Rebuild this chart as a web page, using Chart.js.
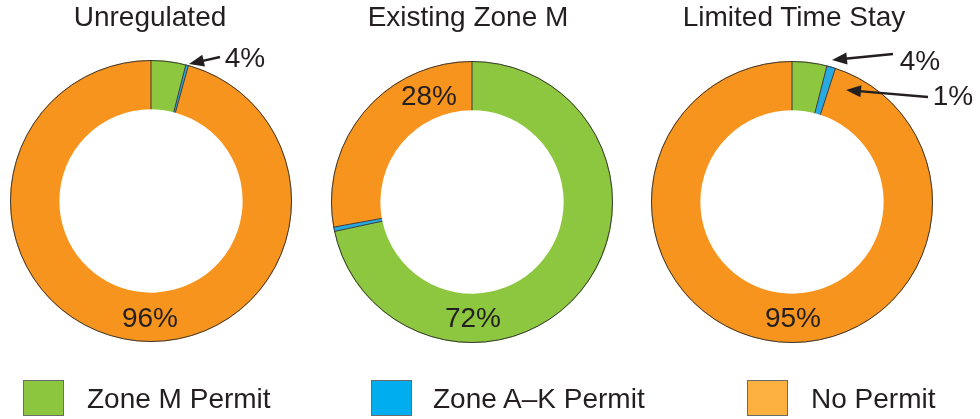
<!DOCTYPE html>
<html>
<head>
<meta charset="utf-8">
<title>Parking permits</title>
<script src="https://cdn.jsdelivr.net/npm/chart.js@4.4.1/dist/chart.umd.min.js"></script>
<style>
	body { margin: 0; background: #fff; font-family: "Liberation Sans", Arial, sans-serif; color: #231f20; }
	#wrap { position: relative; width: 980px; height: 419px; overflow: hidden; }
	.pie { position: absolute; width: 282px; height: 282px; }
	.txt { position: absolute; font-size: 28px; line-height: 1; white-space: nowrap; transform: translate(-50%, -50%); }
	.key { position: absolute; top: 380px; width: 41px; height: 36px; box-sizing: border-box; border: 1px solid #6b6b6b; }
	.keylabel { position: absolute; top: 385px; font-size: 28px; line-height: 1; white-space: nowrap; }
	svg { position: absolute; left: 0; top: 0; }
</style>
</head>
<body>
<div id="wrap">
	<svg id="arrows" width="980" height="419"></svg>
</div>
<script>
const panels = ['Unregulated', 'Existing Zone M', 'Limited Time Stay'];
const categories = ['Zone M Permit', 'Zone A–K Permit', 'No Permit'];
const zoneM = [4, 72, 4];
const zoneAK = [0.3, 0.5, 1];
const noPermit = [96, 28, 95];

const series = [zoneM, zoneAK, noPermit];
const sliceColors = ['#8dc63f', '#27a9e1', '#f7941d'];
const keyColors = ['#8cc63f', '#00aeef', '#fbb040'];

// donut centres and title spots
const layout = [
	{ cx: 151, cy: 201, tx: 150 },
	{ cx: 472, cy: 202, tx: 468 },
	{ cx: 792, cy: 202, tx: 794 },
];

// which value gets printed where, some with a pointer arrow
const labels = [
	{ panel: 0, s: 0, x: 245, y: 58, arrow: [220, 57, 189, 64] },
	{ panel: 0, s: 2, x: 150, y: 318 },
	{ panel: 1, s: 2, x: 429, y: 96 },
	{ panel: 1, s: 0, x: 473, y: 318 },
	{ panel: 2, s: 0, x: 920, y: 61, arrow: [893, 54, 832, 60] },
	{ panel: 2, s: 1, x: 953, y: 96, arrow: [928, 97, 846, 90] },
	{ panel: 2, s: 2, x: 793, y: 318 },
];

const wrap = document.querySelector('#wrap');
const svg = document.querySelector('#arrows');

const addText = (cls, text, style) => {
	const div = document.createElement('div');
	div.className = cls;
	div.textContent = text;
	Object.assign(div.style, style);
	wrap.appendChild(div);
	return div;
};

// dark outline on the outer edge and between slices, none on the hole
const outline = {
	id: 'outline',
	afterDatasetsDraw(chart) {
		const { ctx } = chart;
		const arcs = chart.getDatasetMeta(0).data;
		ctx.save();
		ctx.strokeStyle = '#3a3a3a';
		ctx.lineWidth = 1;
		arcs.forEach(arc => {
			const { x, y, startAngle, innerRadius, outerRadius } = arc.getProps(['x', 'y', 'startAngle', 'innerRadius', 'outerRadius']);
			ctx.beginPath();
			ctx.moveTo(x + Math.cos(startAngle) * innerRadius, y + Math.sin(startAngle) * innerRadius);
			ctx.lineTo(x + Math.cos(startAngle) * outerRadius, y + Math.sin(startAngle) * outerRadius);
			ctx.stroke();
		});
		const a = arcs[0];
		ctx.beginPath();
		ctx.arc(a.x, a.y, a.outerRadius - 0.5, 0, Math.PI * 2);
		ctx.stroke();
		ctx.restore();
	}
};

panels.forEach((name, i) => {
	const { cx, cy, tx } = layout[i];
	const box = document.createElement('div');
	box.className = 'pie';
	box.style.left = (cx - 141) + 'px';
	box.style.top = (cy - 141) + 'px';
	box.innerHTML = '<canvas></canvas>';
	wrap.insertBefore(box, svg);

	new Chart(box.querySelector('canvas'), {
		type: 'doughnut',
		data: {
			labels: categories,
			datasets: [{
				data: series.map(s => s[i]),
				backgroundColor: sliceColors,
				borderWidth: 0,
				hoverOffset: 0,
			}],
		},
		options: {
			responsive: true,
			maintainAspectRatio: false,
			animation: false,
			cutout: '65%',
			events: [],
			layout: { padding: 0 },
			plugins: { legend: { display: false }, tooltip: { enabled: false } },
		},
		plugins: [outline],
	});

	addText('txt', name, { left: tx + 'px', top: '17px' });
});

labels.forEach(({ s, panel, x, y, arrow }) => {
	addText('txt', `${Math.round(series[s][panel])}%`, { left: x + 'px', top: y + 'px' });
	if (!arrow) return;
	const [x1, y1, x2, y2] = arrow;
	const ang = Math.atan2(y2 - y1, x2 - x1);
	const len = 15, half = 6;
	const bx = x2 - Math.cos(ang) * len, by = y2 - Math.sin(ang) * len;
	const px = -Math.sin(ang) * half, py = Math.cos(ang) * half;
	svg.innerHTML += `
		<line x1="${x1}" y1="${y1}" x2="${bx + Math.cos(ang) * 2}" y2="${by + Math.sin(ang) * 2}" stroke="#231f20" stroke-width="2.4"/>
		<polygon points="${x2},${y2} ${bx + px},${by + py} ${bx - px},${by - py}" fill="#231f20"/>
	`;
});

// legend row
const keyX = [23, 371, 747];
const keyTextX = [87, 433, 811];
categories.forEach((name, i) => {
	const sw = document.createElement('div');
	sw.className = 'key';
	sw.style.left = keyX[i] + 'px';
	sw.style.background = keyColors[i];
	wrap.appendChild(sw);
	addText('keylabel', name, { left: keyTextX[i] + 'px' });
});
</script>
</body>
</html>
